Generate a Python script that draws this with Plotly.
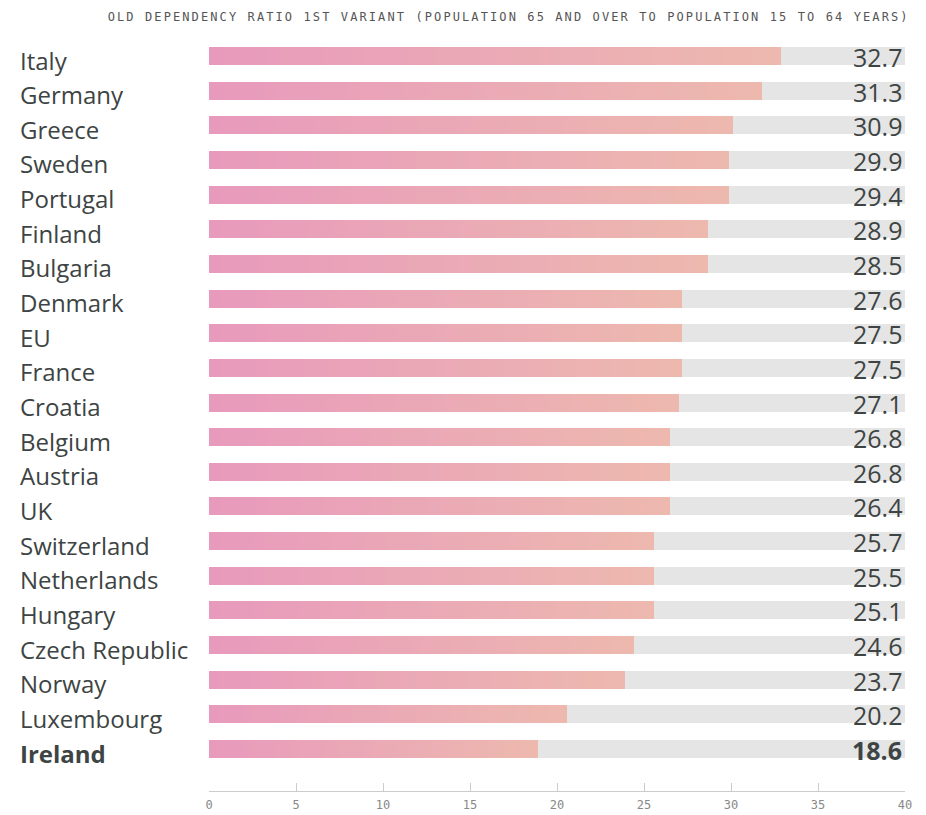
import plotly.graph_objects as go

countries = ["Italy", "Germany", "Greece", "Sweden", "Portugal", "Finland", "Bulgaria",
             "Denmark", "EU", "France", "Croatia", "Belgium", "Austria", "UK",
             "Switzerland", "Netherlands", "Hungary", "Czech Republic", "Norway",
             "Luxembourg", "Ireland"]
values = [32.7, 31.3, 30.9, 29.9, 29.4, 28.9, 28.5, 27.6, 27.5, 27.5, 27.1,
          26.8, 26.8, 26.4, 25.7, 25.5, 25.1, 24.6, 23.7, 20.2, 18.6]
# bar lengths as drawn in the reference picture
bar_lengths = [32.9, 31.8, 30.1, 29.9, 29.9, 28.7, 28.7, 27.2, 27.2, 27.2, 27.0,
               26.5, 26.5, 26.5, 25.6, 25.6, 25.6, 24.4, 23.9, 20.6, 18.9]
track_max = [40] * len(countries)
tick_vals = [0, 5, 10, 15, 20, 25, 30, 35, 40]
tick_text = ["0", "5", "10", "15", "20", "25", "30", "35", "40"]
title_text = "OLD DEPENDENCY RATIO 1ST VARIANT (POPULATION 65 AND OVER TO POPULATION 15 TO 64 YEARS)"
highlight = "Ireland"

ypos = list(range(len(countries)))
BAR_W = 0.52
TEXT = "#3d4443"
c0 = (232, 153, 188)  # pink (left)
c1 = (237, 185, 175)  # peach (right)

fig = go.Figure()
fig.add_trace(go.Bar(x=track_max, y=ypos, orientation="h", width=BAR_W,
                     marker=dict(color="#e5e5e5", line=dict(width=0)),
                     hoverinfo="skip", showlegend=False))

N = 40
for k in range(N):
    frac = (N - k) / N
    t = 1 - k / N
    col = tuple(round(c0[i] + (c1[i] - c0[i]) * t) for i in range(3))
    fig.add_trace(go.Bar(x=[b * frac for b in bar_lengths], y=ypos, orientation="h",
                         width=BAR_W,
                         marker=dict(color="rgb(%d,%d,%d)" % col, line=dict(width=0)),
                         hoverinfo="skip", showlegend=False))

annotations = []
for i, (c, v) in enumerate(zip(countries, values)):
    bold = c == highlight
    annotations.append(dict(
        x=(18 - 209) / 696, xref="paper", y=i, yref="y", xanchor="left", yanchor="middle",
        text=("<b>%s</b>" % c) if bold else c, showarrow=False, yshift=-4,
        font=dict(family="Open Sans", size=24, color=TEXT)))
    annotations.append(dict(
        x=40, xref="x", y=i, yref="y", xanchor="right", yanchor="middle",
        text=("<b>%.1f</b>" % v) if bold else "%.1f" % v, showarrow=False,
        xshift=-1, yshift=-1,
        font=dict(family="Open Sans", size=25, color=TEXT)))
annotations.append(dict(
    x=(508 - 209) / 696, xref="paper", y=1 + 21 / 753, yref="paper",
    xanchor="center", yanchor="middle", text=title_text, showarrow=False,
    font=dict(family="DejaVu Sans Mono", size=12, color="#555555")))

fig.update_layout(
    width=926, height=815,
    margin=dict(l=209, r=21, t=38, b=24),
    paper_bgcolor="white", plot_bgcolor="white",
    barmode="overlay", bargap=0,
    annotations=annotations,
    xaxis=dict(range=[0, 40], tickvals=tick_vals, ticktext=tick_text,
               showgrid=False, zeroline=False, showline=True, linecolor="#cccccc",
               linewidth=1, ticks="inside", ticklen=8, tickcolor="#cccccc",
               ticklabelstandoff=3, automargin=False,
               tickfont=dict(family="DejaVu Sans Mono", size=12, color="#888888"),
               fixedrange=True),
    yaxis=dict(range=[20 + 1.212, -0.52], showticklabels=False, showgrid=False,
               zeroline=False, showline=False, fixedrange=True, automargin=False),
)

post = """
document.body.style.margin = '0';
document.body.style.padding = '0';
var els = document.querySelectorAll('text.annotation-text');
els.forEach(function(e){
  if (e.textContent.indexOf('OLD DEPENDENCY') === 0) { e.style.letterSpacing = '2.1px'; }
});
"""
fig.write_html("out.html", post_script=post, config={"displayModeBar": False})
